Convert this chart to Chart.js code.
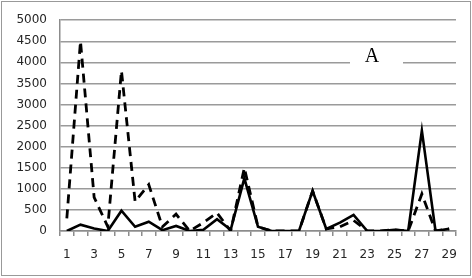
<!DOCTYPE html>
<html>
<head>
<meta charset="utf-8">
<script src="https://cdn.jsdelivr.net/npm/chart.js@4"></script>
<style>
  body { margin: 0; background: #fff; }
</style>
</head>
<body>
<canvas id="myChart" width="472" height="278"></canvas>
<script>
var labels = ["1","2","3","4","5","6","7","8","9","10","11","12","13","14","15",
              "16","17","18","19","20","21","22","23","24","25","26","27","28","29"];

var solidValues = [0,150,60,0,480,100,220,20,120,0,30,280,30,1250,100,
                   0,0,0,950,50,200,380,0,0,30,0,2380,0,50];

var dashedValues = [300,4500,800,100,3800,700,1100,100,400,0,200,430,0,1500,100,
                    0,0,0,950,50,100,250,0,0,30,0,880,0,50];

var yTicks = { min: 0, max: 5000, step: 500 };

// outer frame + the "A" label box
var extras = {
  id: "extras",
  afterDraw: function (chart) {
    var ctx = chart.ctx;
    ctx.save();
    ctx.strokeStyle = "#999999";
    ctx.lineWidth = 1;
    ctx.strokeRect(1.5, 1.5, 469, 274);

    ctx.fillStyle = "#ffffff";
    ctx.fillRect(350, 44, 53, 22);
    ctx.fillStyle = "#000000";
    ctx.font = "20px 'Liberation Serif'";
    ctx.textAlign = "center";
    ctx.textBaseline = "alphabetic";
    ctx.fillText("A", 372, 62);
    ctx.restore();
  }
};

var data = {
  labels: labels,
  datasets: [
    {
      label: "dashed",
      data: dashedValues,
      borderColor: "#000000",
      borderWidth: 2.8,
      borderDash: [9, 6],
      pointRadius: 0,
      tension: 0,
      fill: false
    },
    {
      label: "solid",
      data: solidValues,
      borderColor: "#000000",
      borderWidth: 2.6,
      pointRadius: 0,
      tension: 0,
      fill: false
    }
  ]
};

var config = {
  type: "line",
  data: data,
  plugins: [extras],
  options: {
    responsive: false,
    animation: false,
    layout: { padding: { top: 17, right: 16, left: 0, bottom: 0 } },
    plugins: { legend: { display: false }, tooltip: { enabled: false } },
    scales: {
      x: {
        offset: true,
        grid: { drawOnChartArea: false, offset: true, tickLength: 5, color: "#8c8c8c", lineWidth: 1.5 },
        border: { color: "#8c8c8c", width: 1.5 },
        ticks: {
          autoSkip: false,
          maxRotation: 0,
          padding: 12,
          color: "#262626",
          font: { family: "'DejaVu Sans'", size: 12 },
          callback: function (v, i) { return i % 2 === 0 ? labels[i] : ""; }
        },
        afterFit: function (s) { s.height = 47; }
      },
      y: {
        min: yTicks.min,
        max: yTicks.max,
        grid: { color: "#9a9a9a", lineWidth: 1.5, drawTicks: false },
        border: { color: "#8c8c8c", width: 1.5 },
        ticks: {
          stepSize: yTicks.step,
          padding: 13,
          color: "#262626",
          font: { family: "'DejaVu Sans'", size: 12 },
          callback: function (v) { return String(v); }
        },
        afterFit: function (s) { s.width = 60; }
      }
    }
  }
};

var myChart = new Chart(document.getElementById("myChart"), config);
</script>
</body>
</html>
